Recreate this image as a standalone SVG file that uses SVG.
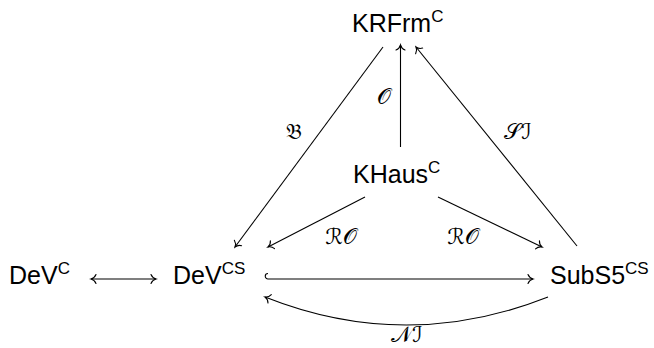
<svg xmlns="http://www.w3.org/2000/svg" width="654" height="348" viewBox="0 0 654 348">
<style>
.n{font-family:"Liberation Sans",Arial,sans-serif;font-size:25px;fill:#000}
.sup{font-size:17px}
.lbl{font-family:"DejaVu Serif","DejaVu Sans","Noto Sans",serif;font-size:22px;fill:#000}
.e{fill:none;stroke:#000;stroke-width:1.1}
</style>
<defs>
<marker id="to" markerUnits="userSpaceOnUse" viewBox="-7 -6 9 12" markerWidth="9" markerHeight="12" refX="0" refY="0" orient="auto-start-reverse">
<path d="M-5,-4.5 C-4,-2 -1.5,-0.4 0,0 C-1.5,0.4 -4,2 -5,4.5" fill="none" stroke="#000" stroke-width="1.1" stroke-linecap="round"/>
</marker>
</defs>
<rect width="654" height="348" fill="#fff"/>
<g id="KRFrm"><text class="n" x="352" y="32">KRFrm<tspan class="sup" dy="-10">C</tspan></text></g>
<g id="KHaus"><text class="n" x="353" y="183">KHaus<tspan class="sup" dy="-10">C</tspan></text></g>
<g id="DeVC"><text class="n" x="9" y="284">DeV<tspan class="sup" dy="-10">C</tspan></text></g>
<g id="DeVCS"><text class="n" x="173" y="284">DeV<tspan class="sup" dy="-10">CS</tspan></text></g>
<g id="SubS5CS"><text class="n" x="550" y="284">SubS5<tspan class="sup" dy="-10">CS</tspan></text></g>
<g id="connectors">
<path class="e" d="M91,279 H156" marker-start="url(#to)" marker-end="url(#to)"/>
<path class="e" d="M268,279 H533" marker-end="url(#to)"/>
<path class="e" d="M268,273.5 A2.75,2.75 0 0 0 268,279"/>
<path class="e" d="M548,297 Q406,353 265,297" marker-end="url(#to)"/>
<path class="e" d="M365,197 L268,247" marker-end="url(#to)"/>
<path class="e" d="M438,197 L542,247" marker-end="url(#to)"/>
<path class="e" d="M400.5,147 V45" marker-end="url(#to)"/>
<path class="e" d="M383,47 L235,247" marker-end="url(#to)"/>
<path class="e" d="M577,246 L416,47" marker-end="url(#to)"/>
<text class="lbl" x="407" y="342" text-anchor="middle">𝒩ℐ</text>
<text class="lbl" x="341" y="244" text-anchor="middle">ℛ𝒪</text>
<text class="lbl" x="463" y="244" text-anchor="middle">ℛ𝒪</text>
<text class="lbl" x="384" y="104" text-anchor="middle">𝒪</text>
<text class="lbl" x="294" y="139" text-anchor="middle">𝔅</text>
<text class="lbl" x="518" y="139" text-anchor="middle">𝒮ℐ</text>
</g>
</svg>
